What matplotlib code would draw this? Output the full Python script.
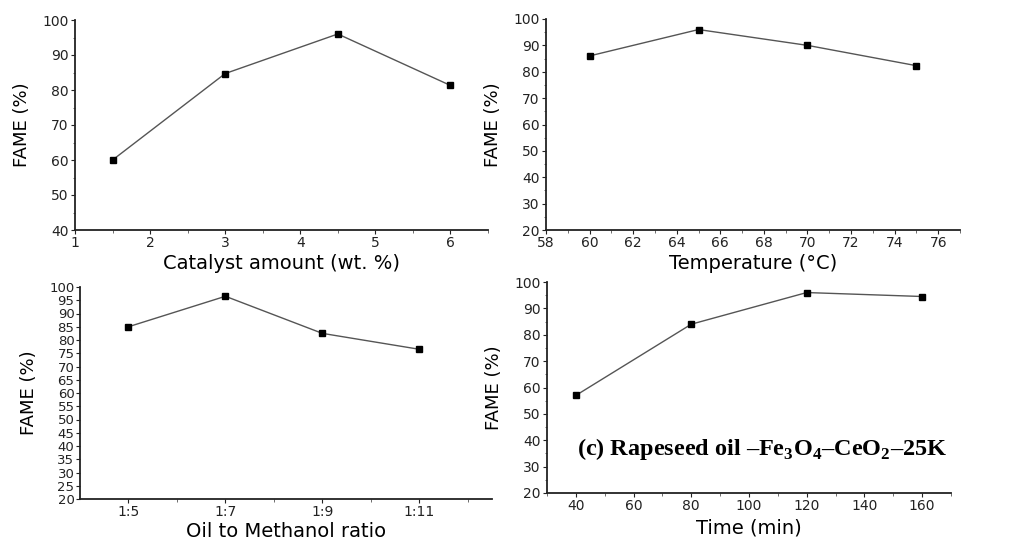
import matplotlib
matplotlib.use('Agg')
import matplotlib.pyplot as plt
from matplotlib.ticker import MultipleLocator, FixedLocator

plt.rcParams['font.family'] = 'DejaVu Sans'
plt.rcParams['mathtext.fontset'] = 'custom'
plt.rcParams['mathtext.rm'] = 'Liberation Serif:bold'

# data
cat_x = [1.5, 3, 4.5, 6]
cat_y = [60, 84.7, 96, 81.3]

temp_x = [60, 65, 70, 75]
temp_y = [86, 96, 90, 82.3]

ratio_labels = ['1:5', '1:7', '1:9', '1:11']
ratio_x = [5, 7, 9, 11]
ratio_y = [85, 96.5, 82.5, 76.5]

time_x = [40, 80, 120, 160]
time_y = [57, 84, 96, 94.5]

note = r'(c) Rapeseed oil –Fe$_3$O$_4$–CeO$_2$–25K'

fig = plt.figure(figsize=(10.15, 5.44), dpi=100)

def px_axes(l, t, r, b):
    W, H = 1015.0, 544.0
    return fig.add_axes([l / W, 1 - b / H, (r - l) / W, (b - t) / H])

def style(ax):
    for s in ['top', 'right']:
        ax.spines[s].set_visible(False)
    for s in ['left', 'bottom']:
        ax.spines[s].set_linewidth(1.3)
        ax.spines[s].set_color('#222222')
    ax.tick_params(which='major', direction='out', length=3, width=0.8,
                   labelsize=10, pad=1.5, colors='#222222')
    ax.tick_params(which='minor', direction='out', length=1.8, width=0.6,
                   colors='#555555')

def draw(ax, xs, ys):
    ax.plot(xs, ys, color='#555555', linewidth=1.0, marker='s',
            markersize=4.8, markerfacecolor='black', markeredgecolor='black')

ax1 = px_axes(75, 20, 488, 230)
draw(ax1, cat_x, cat_y)
ax1.set_xlim(1, 6.5)
ax1.set_ylim(40, 100)
ax1.xaxis.set_major_locator(FixedLocator([1, 2, 3, 4, 5, 6]))
ax1.xaxis.set_minor_locator(MultipleLocator(0.5))
ax1.yaxis.set_major_locator(MultipleLocator(10))
ax1.yaxis.set_minor_locator(MultipleLocator(5))
ax1.set_xlabel('Catalyst amount (wt. %)', fontsize=14, labelpad=3)
ax1.set_ylabel('FAME (%)', fontsize=13, labelpad=8)
style(ax1)

ax2 = px_axes(546, 19, 960, 230)
draw(ax2, temp_x, temp_y)
ax2.set_xlim(58, 77)
ax2.set_ylim(20, 100)
ax2.xaxis.set_major_locator(FixedLocator(list(range(58, 77, 2))))
ax2.xaxis.set_minor_locator(MultipleLocator(1))
ax2.yaxis.set_major_locator(MultipleLocator(10))
ax2.yaxis.set_minor_locator(MultipleLocator(5))
ax2.set_xlabel('Temperature (°C)', fontsize=14, labelpad=3)
ax2.set_ylabel('FAME (%)', fontsize=13, labelpad=8)
style(ax2)

ax3 = px_axes(80, 287, 492, 499)
draw(ax3, ratio_x, ratio_y)
ax3.set_xlim(4, 12.5)
ax3.set_ylim(20, 100)
ax3.set_xticks(ratio_x)
ax3.set_xticklabels(ratio_labels)
ax3.xaxis.set_minor_locator(FixedLocator([6, 8, 10, 12]))
ax3.yaxis.set_major_locator(MultipleLocator(5))
ax3.set_xlabel('Oil to Methanol ratio', fontsize=14, labelpad=2)
ax3.set_ylabel('FAME (%)', fontsize=13, labelpad=8)
style(ax3)
ax3.tick_params(axis='y', which='major', pad=1, labelsize=9.5)

ax4 = px_axes(547, 282, 951, 493)
draw(ax4, time_x, time_y)
ax4.set_xlim(30, 170)
ax4.set_ylim(20, 100)
ax4.xaxis.set_major_locator(MultipleLocator(20))
ax4.xaxis.set_minor_locator(MultipleLocator(10))
ax4.yaxis.set_major_locator(MultipleLocator(10))
ax4.yaxis.set_minor_locator(MultipleLocator(5))
ax4.set_xlabel('Time (min)', fontsize=14, labelpad=4)
ax4.set_ylabel('FAME (%)', fontsize=13, labelpad=8)
style(ax4)
ax4.text(0.075, 0.21, note, transform=ax4.transAxes, fontsize=17.5,
         family='Liberation Serif', fontweight='bold', ha='left', va='center',
         clip_on=False)

fig.savefig('out.png', dpi=100)
